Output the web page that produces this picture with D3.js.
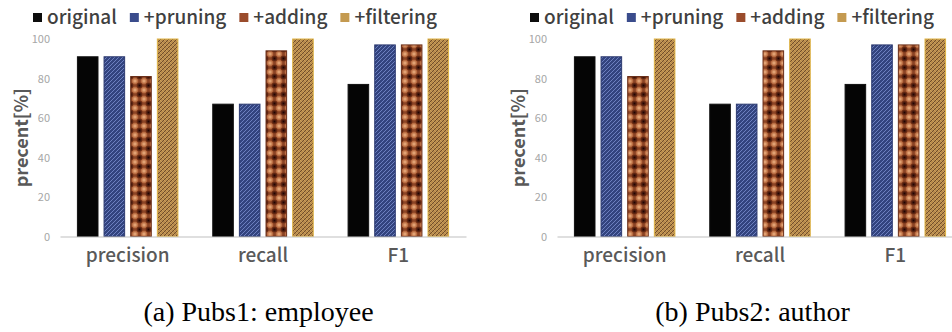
<!DOCTYPE html>
<html><head><meta charset="utf-8">
<script src="https://cdn.jsdelivr.net/npm/d3@7/dist/d3.min.js"></script>
<style>
html,body{margin:0;padding:0;background:#fff;}
svg{display:block;}
</style></head>
<body>
<svg id="chart" width="952" height="332"></svg>
<script>
const categories = ["precision", "recall", "F1"];
const seriesNames = ["original", "+pruning", "+adding", "+filtering"];
const panelA = [
  [91, 67, 77],   // original
  [91, 67, 97],   // +pruning
  [81, 94, 97],   // +adding
  [100, 100, 100] // +filtering
];
const panelB = [
  [91, 67, 77],
  [91, 67, 97],
  [81, 94, 97],
  [100, 100, 100]
];
const yTicks = [0, 20, 40, 60, 80, 100];
const captions = ["(a) Pubs1: employee", "(b) Pubs2: author"];
const yLabel = "precent[%]";

const svg = d3.select("#chart");
const defs = svg.append("defs");

// blue diagonal hatch
const pb = defs.append("pattern").attr("id","pBlue").attr("patternUnits","userSpaceOnUse")
  .attr("width",4).attr("height",4);
pb.append("rect").attr("width",4).attr("height",4).attr("fill","#33447f");
pb.append("path").attr("d","M-1,1 L1,-1 M0,4 L4,0 M3,5 L5,3").attr("stroke","#6d80c0").attr("stroke-width",1);

// brown dotted checker
const rg1 = defs.append("radialGradient").attr("id","gLight");
rg1.append("stop").attr("offset","0%").attr("stop-color","#f2b686");
rg1.append("stop").attr("offset","100%").attr("stop-color","#a9582f");
const rg2 = defs.append("radialGradient").attr("id","gDark");
rg2.append("stop").attr("offset","0%").attr("stop-color","#200302");
rg2.append("stop").attr("offset","100%").attr("stop-color","#7a3519");
const pr = defs.append("pattern").attr("id","pBrown").attr("patternUnits","userSpaceOnUse")
  .attr("width",9).attr("height",9).attr("x",0).attr("y",0);
pr.append("rect").attr("width",9).attr("height",9).attr("fill","#8a4426");
[[0,0],[9,0],[0,9],[9,9]].forEach(([cx,cy])=>pr.append("circle").attr("cx",cx).attr("cy",cy).attr("r",3.4).attr("fill","url(#gLight)"));
pr.append("circle").attr("cx",4.5).attr("cy",4.5).attr("r",3).attr("fill","url(#gDark)");

// gold crosshatch
const pg = defs.append("pattern").attr("id","pGold").attr("patternUnits","userSpaceOnUse")
  .attr("width",4).attr("height",4);
pg.append("rect").attr("width",4).attr("height",4).attr("fill","#b88a4c");
pg.append("path").attr("d","M-1,1 L1,-1 M0,4 L4,0 M3,5 L5,3").attr("stroke","#5e3e22").attr("stroke-width",0.8);
pg.append("path").attr("d","M-1,3 L1,5 M0,0 L4,4 M3,-1 L5,1").attr("stroke","#d9b068").attr("stroke-width",0.6);

const fills = ["#050505", "url(#pBlue)", "url(#pBrown)", "url(#pGold)"];
const strokes = ["#111", "#2c3a70", "#6a2e18", "#e0b444"];
const swatch = ["#0d0d0d", "#3a4c8c", "#9a4c2c", "#c49a50"];

const textFont = "'Noto Sans CJK SC', 'Noto Sans', sans-serif";

function drawPanel(data, ox, caption, capX) {
  const g = svg.append("g");
  const x0 = d3.scaleBand().domain(categories).range([ox + 60, ox + 466]).paddingInner(0.25).paddingOuter(0.125);
  const x1 = d3.scaleBand().domain(d3.range(seriesNames.length)).range([0, x0.bandwidth()]).paddingInner(0.19);
  const y = d3.scaleLinear().domain([0, 100]).range([236.5, 39]);

  // y tick labels (no axis line)
  const ya = d3.axisLeft(y).tickValues(yTicks).tickSize(0).tickPadding(0);
  const yg = g.append("g").attr("transform", `translate(${ox + 50},0)`).call(ya);
  yg.select(".domain").remove();
  yg.selectAll("text").attr("fill", "#a6a6a6").attr("font-size", 11).attr("font-family", textFont);

  // bars
  seriesNames.forEach((s, si) => {
    g.append("g").selectAll("rect").data(categories).join("rect")
      .attr("x", c => x0(c) + x1(si) + 0.5)
      .attr("y", (c, ci) => y(data[si][ci]))
      .attr("width", x1.bandwidth() - 1)
      .attr("height", (c, ci) => y(0) - y(data[si][ci]))
      .attr("fill", fills[si])
      .attr("stroke", strokes[si]).attr("stroke-width", 1);
  });

  // x axis
  const xa = d3.axisBottom(x0).tickSize(0).tickPadding(12);
  const xg = g.append("g").attr("transform", `translate(0,${y(0)})`).call(xa);
  xg.select(".domain").attr("stroke", "#bfbfbf").attr("stroke-width", 1.2);
  xg.selectAll("text").attr("fill", "#595959").attr("font-size", 19).attr("font-weight", 500)
    .attr("font-family", textFont).attr("dy", "0.71em");

  // y label
  g.append("text").attr("transform", `translate(${ox + 28},${(y(0) + y(100)) / 2}) rotate(-90)`)
    .attr("text-anchor", "middle").attr("fill", "#595959").attr("font-size", 18).attr("font-weight", 700)
    .attr("font-family", textFont).text(yLabel);

  // legend
  const lg = g.append("g");
  let lx = ox + 33;
  seriesNames.forEach((s, si) => {
    lg.append("rect").attr("x", lx).attr("y", 13).attr("width", 9).attr("height", 9).attr("fill", swatch[si]);
    const t = lg.append("text").attr("x", lx + 14).attr("y", 24).attr("fill", "#404040")
      .attr("font-size", 19).attr("font-weight", 500).attr("font-family", textFont).text(s);
    lx += 14 + t.node().getComputedTextLength() + 13;
  });

  // caption
  svg.append("text").attr("x", capX).attr("y", 321).attr("text-anchor", "middle")
    .attr("font-family", "'Liberation Serif', 'Times New Roman', serif").attr("font-size", 28)
    .attr("fill", "#000").text(caption);
}

drawPanel(panelA, 0, captions[0], 258.5);
drawPanel(panelB, 497, captions[1], 752.5);
</script>
</body></html>
